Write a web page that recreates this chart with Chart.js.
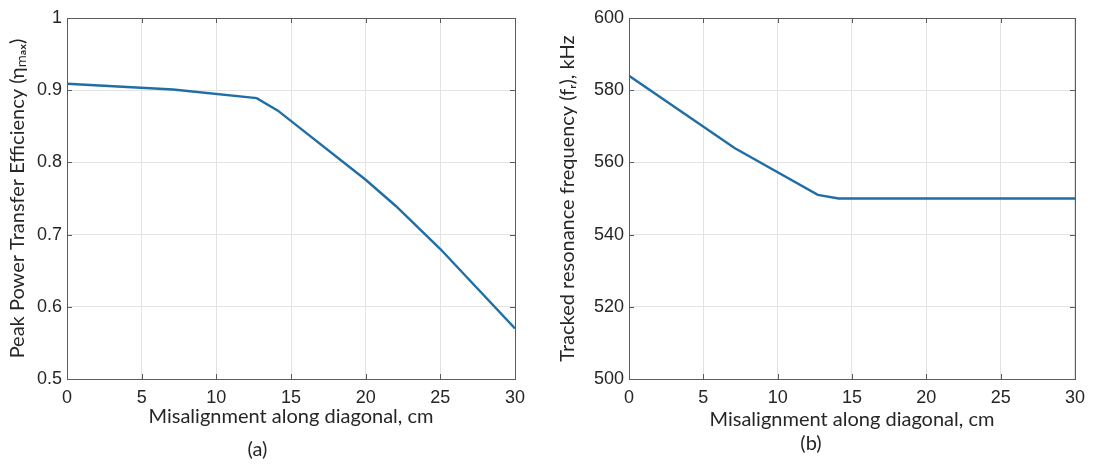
<!DOCTYPE html>
<html>
<head>
<meta charset="utf-8">
<script src="https://cdn.jsdelivr.net/npm/chart.js@4.4.1/dist/chart.umd.min.js"></script>
<style>
  html, body { margin: 0; padding: 0; background: #fff; }
  body { width: 1093px; height: 465px; position: relative; overflow: hidden; }
  canvas { position: absolute; top: 0; }
  #ca { left: 0; }
  #cb { left: 546px; }
</style>
</head>
<body>
<canvas id="ca" width="546" height="465" style="width:546px;height:465px"></canvas>
<canvas id="cb" width="547" height="465" style="width:547px;height:465px"></canvas>
<script>
// ---- data ----
const xTicks = [0, 5, 10, 15, 20, 25, 30];
const effX = [0, 7.1, 12.7, 14.1, 20, 22, 25, 30];
const effY = [0.909, 0.901, 0.889, 0.872, 0.776, 0.740, 0.680, 0.570];
const effTicks = [0.5, 0.6, 0.7, 0.8, 0.9, 1];
const freqX = [0, 7.1, 12.7, 14.1, 20, 25, 30];
const freqY = [584, 564, 551, 550, 550, 550, 550];
const freqTicks = [500, 520, 540, 560, 580, 600];
const xTitle = 'Misalignment along diagonal, cm';
const yTitleA = 'Peak Power Transfer Efficiency (\u03B7\u2098\u2090\u2093)';
const yTitleB = 'Tracked resonance frequency (f\u1D63), kHz';
const captionA = '(a)';
const captionB = '(b)';

const LINE = '#1f6ea6';
const GRID = '#e3e3e3';
const FRAME = '#5c5c5c';
const TXT = '#262626';
const tickFont = { family: "'Liberation Sans', Arial, sans-serif", size: 18, weight: 'normal' };
const titleFont = { family: "Lato, 'Open Sans', sans-serif", size: 20, weight: 'normal' };

const framePlugin = {
  id: 'frame',
  afterDatasetsDraw(chart) {
    const { ctx, chartArea: a, scales } = chart;
    ctx.save();
    ctx.strokeStyle = FRAME;
    ctx.lineWidth = 1;
    ctx.strokeRect(Math.round(a.left) + 0.5, Math.round(a.top) + 0.5,
                   Math.round(a.right - a.left), Math.round(a.bottom - a.top));
    ctx.beginPath();
    const L = 5;
    scales.x.ticks.forEach(t => {
      const px = Math.round(scales.x.getPixelForValue(t.value)) + 0.5;
      ctx.moveTo(px, a.bottom); ctx.lineTo(px, a.bottom - L);
      ctx.moveTo(px, a.top); ctx.lineTo(px, a.top + L);
    });
    scales.y.ticks.forEach(t => {
      const py = Math.round(scales.y.getPixelForValue(t.value)) + 0.5;
      ctx.moveTo(a.left, py); ctx.lineTo(a.left + L, py);
      ctx.moveTo(a.right, py); ctx.lineTo(a.right - L, py);
    });
    ctx.stroke();
    ctx.restore();
  }
};

function makeChart(id, xs, ys, yTicks, yTitle, caption, cfg) {
  const pts = xs.map((x, i) => ({ x, y: ys[i] }));
  return new Chart(document.getElementById(id), {
    type: 'line',
    data: { datasets: [{ data: pts, borderColor: LINE, borderWidth: 2.4, pointRadius: 0, tension: 0, fill: false }] },
    options: {
      responsive: false,
      animation: false,
      events: [],
      layout: { padding: { left: 0, top: 18, right: cfg.padRight, bottom: 0 } },
      plugins: {
        legend: { display: false },
        tooltip: { enabled: false },
        title: {
          display: true, position: 'bottom', text: caption, color: TXT,
          font: titleFont, padding: { top: cfg.capTop, bottom: cfg.capBottom }
        }
      },
      scales: {
        x: {
          type: 'linear', min: 0, max: 30,
          afterBuildTicks: s => { s.ticks = xTicks.map(v => ({ value: v })); },
          afterFit: s => { s.height = cfg.xH; },
          ticks: { color: TXT, font: tickFont, padding: 8, maxRotation: 0, callback: v => String(v) },
          grid: { color: GRID, drawTicks: false },
          border: { display: false },
          title: { display: true, text: xTitle, color: TXT, font: titleFont, padding: { top: 0, bottom: 0 } }
        },
        y: {
          type: 'linear', min: yTicks[0], max: yTicks[yTicks.length - 1],
          afterBuildTicks: s => { s.ticks = yTicks.map(v => ({ value: v })); },
          afterFit: s => { s.width = cfg.yW; },
          ticks: { color: TXT, font: tickFont, padding: 5, callback: v => String(v) },
          grid: { color: GRID, drawTicks: false },
          border: { display: false },
          title: { display: true, text: yTitle, color: TXT, font: titleFont, padding: { top: cfg.yTitlePad, bottom: 0 } }
        }
      }
    },
    plugins: [framePlugin]
  });
}

makeChart('ca', effX, effY, effTicks, yTitleA, captionA,
  { padRight: 31, xH: 50, capTop: 9, capBottom: 3, yW: 67, yTitlePad: 6 });
makeChart('cb', freqX, freqY, freqTicks, yTitleB, captionB,
  { padRight: 17, xH: 53, capTop: 0, capBottom: 9, yW: 83, yTitlePad: 10 });
</script>
</body>
</html>
